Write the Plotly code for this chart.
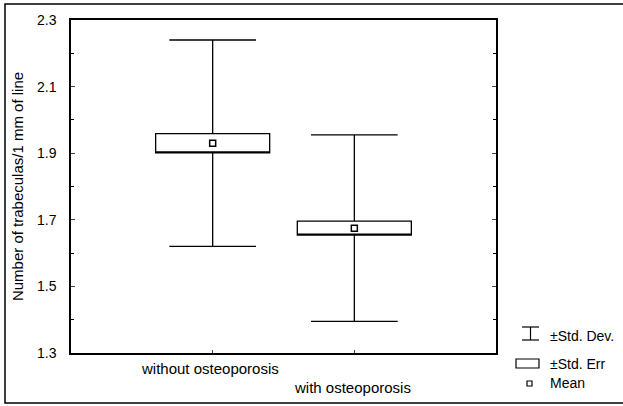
import plotly.graph_objects as go

categories = ["without osteoporosis", "with osteoporosis"]
positions = [1, 2]
means = [1.93, 1.675]
std_err = [0.029, 0.021]
std_dev = [0.31, 0.28]
y_ticks = [1.3, 1.5, 1.7, 1.9, 2.1, 2.3]
legend_labels = ["±Std. Dev.", "±Std. Err", "Mean"]

FONT = "Liberation Sans, Arial, sans-serif"

W, H = 623, 406
L, R, T, B = 71, 127, 20, 53
PW, PH = W - L - R, H - T - B


def px(x):
    return (x - L) / PW


def py(y):
    return (H - B - y) / PH


fig = go.Figure()

for i in range(len(categories)):
    m, se, sd = means[i], std_err[i], std_dev[i]
    fig.add_trace(go.Box(
        x=[positions[i]],
        q1=[m - se], median=[m - se], q3=[m + se],
        lowerfence=[m - sd], upperfence=[m + sd],
        width=0.805, whiskerwidth=0.76,
        fillcolor="white", line=dict(color="black", width=1.3),
        boxpoints=False, showlegend=False, hoverinfo="skip",
    ))

fig.add_trace(go.Scatter(
    x=positions, y=means, mode="markers",
    marker=dict(symbol="square-open", size=6, color="black", line=dict(width=1.5)),
    showlegend=False, hoverinfo="skip",
))

# staggered category labels
label_y = [368, 387]
label_dx = [-0.02, -0.01]
for i, c in enumerate(categories):
    fig.add_annotation(x=positions[i] + label_dx[i], y=py(label_y[i]),
                       xref="x", yref="paper", text=c, showarrow=False,
                       yanchor="middle", font=dict(family=FONT, size=15, color="black"))

# custom legend
ln = dict(color="black", width=1.2)
fig.add_shape(type="line", xref="paper", yref="paper", x0=px(522), x1=px(539), y0=py(327), y1=py(327), line=ln)
fig.add_shape(type="line", xref="paper", yref="paper", x0=px(522), x1=px(539), y0=py(340), y1=py(340), line=ln)
fig.add_shape(type="line", xref="paper", yref="paper", x0=px(530.5), x1=px(530.5), y0=py(327), y1=py(340), line=ln)
fig.add_shape(type="rect", xref="paper", yref="paper", x0=px(516), x1=px(539), y0=py(359), y1=py(368),
              line=ln, fillcolor="white")
fig.add_shape(type="rect", xref="paper", yref="paper", x0=px(527), x1=px(532), y0=py(381), y1=py(386),
              line=ln, fillcolor="white")
for lab, yy in zip(legend_labels, [336, 364, 383]):
    fig.add_annotation(x=px(548), y=py(yy), xref="paper", yref="paper", text=lab,
                       showarrow=False, xanchor="left", yanchor="middle",
                       font=dict(family=FONT, size=14, color="black"))

# outer frame (right side runs off the image as in the reference)
fig.add_shape(type="rect", xref="paper", yref="paper", x0=px(5), x1=px(640), y0=py(403), y1=py(4),
              line=dict(color="black", width=1.5))

fig.update_layout(
    width=W, height=H,
    margin=dict(l=L, r=R, t=T, b=B, autoexpand=False),
    paper_bgcolor="white", plot_bgcolor="white",
    font=dict(family=FONT, size=13, color="black"),
    showlegend=False,
    xaxis=dict(range=[0, 3], tickvals=positions, ticktext=["", ""], ticks="inside", ticklen=3,
               showline=True, linecolor="black", linewidth=1.5, mirror=True,
               showgrid=False, zeroline=False, fixedrange=True),
    yaxis=dict(range=[1.3, 2.3], tickvals=y_ticks, ticktext=[f"{v:.1f}" for v in y_ticks],
               ticks="inside", ticklen=4, showline=True, linecolor="black", linewidth=1.5,
               mirror="ticks", showgrid=False, zeroline=False,
               minor=dict(dtick=0.1, ticks="inside", ticklen=3, tickcolor="black"),
               title=dict(text="Number of trabeculas/1 mm of line", standoff=10,
                          font=dict(family=FONT, size=15)),
               tickfont=dict(size=14), ticklabelstandoff=10),
)

fig.write_html("out.html", config={"displayModeBar": False},
               post_script="document.body.style.margin='0';document.body.style.overflow='hidden';")
